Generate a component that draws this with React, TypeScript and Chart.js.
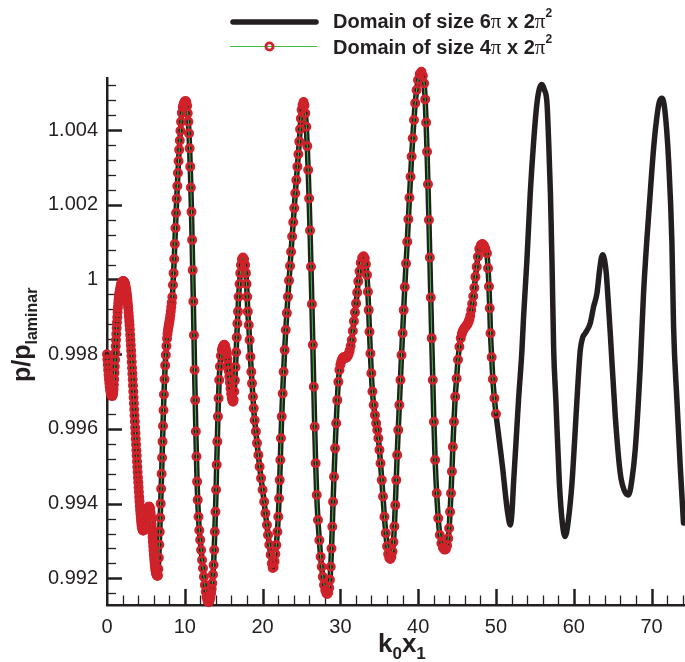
import React, { useEffect, useRef } from 'react';
import { Chart, registerables } from 'chart.js';

Chart.register(...registerables);

// ---- axis definitions ----
const xTicks = [0, 10, 20, 30, 40, 50, 60, 70];
const yTicks = [0.992, 0.994, 0.996, 0.998, 1.0, 1.002, 1.004];
const xMin = 0;
const xMax = 74.3;
const yMin = 0.991287;
const yMax = 1.005393;
const xMinorStep = 2;
const yMinorStep = 0.0004;

// ---- legend labels ----
const legendBlack = ['Domain of size 6', 'π', ' x 2', 'π', '2'];
const legendRed = ['Domain of size 4', 'π', ' x 2', 'π', '2'];

// ---- series: domain 4π x 2π² (red markers, green line) ----
const redSeries: [number, number][] = [
  [0, 0.998], [0.05, 0.99786], [0.1, 0.99772], [0.15, 0.99758], [0.2, 0.99745], [0.25, 0.99733],
  [0.3, 0.99722], [0.35, 0.99713], [0.4, 0.99705], [0.45, 0.99699], [0.5, 0.99694], [0.55, 0.99691],
  [0.6, 0.99689], [0.65, 0.99688], [0.7, 0.99689], [0.75, 0.99692], [0.8, 0.99697], [0.84, 0.99706],
  [0.88, 0.99718], [0.92, 0.99733], [0.96, 0.9975], [1.0, 0.99767], [1.04, 0.99785], [1.08, 0.99803],
  [1.12, 0.99821], [1.16, 0.99838], [1.2, 0.99854], [1.24, 0.9987], [1.28, 0.99885], [1.32, 0.99899],
  [1.36, 0.99912], [1.4, 0.99925], [1.44, 0.99935], [1.48, 0.99944], [1.52, 0.99952], [1.56, 0.99959],
  [1.6, 0.99965], [1.66, 0.99972], [1.72, 0.99979], [1.78, 0.99985], [1.84, 0.99989], [1.9, 0.99992],
  [1.96, 0.99994], [2.02, 0.99995], [2.08, 0.99995], [2.14, 0.99995], [2.18, 0.99994], [2.22, 0.99993],
  [2.26, 0.99991], [2.3, 0.99989], [2.34, 0.99986], [2.38, 0.99982], [2.42, 0.99977], [2.46, 0.99972],
  [2.5, 0.99967], [2.54, 0.99962], [2.58, 0.99955], [2.62, 0.99947], [2.66, 0.99939], [2.7, 0.9993],
  [2.74, 0.99922], [2.78, 0.99911], [2.82, 0.999], [2.86, 0.99889], [2.9, 0.99878], [2.94, 0.99866],
  [2.98, 0.99852], [3.02, 0.99838], [3.06, 0.99824], [3.1, 0.9981], [3.14, 0.99795], [3.18, 0.99779],
  [3.22, 0.99763], [3.26, 0.99748], [3.3, 0.99732], [3.34, 0.99716], [3.38, 0.997], [3.42, 0.99684],
  [3.46, 0.99668], [3.5, 0.99652], [3.54, 0.99636], [3.58, 0.9962], [3.62, 0.99604], [3.66, 0.99589],
  [3.7, 0.99573], [3.74, 0.99558], [3.78, 0.99543], [3.82, 0.99528], [3.86, 0.99513], [3.9, 0.99498],
  [3.94, 0.99484], [3.98, 0.9947], [4.02, 0.99457], [4.06, 0.99444], [4.1, 0.99431], [4.14, 0.99418],
  [4.18, 0.99406], [4.22, 0.99394], [4.26, 0.99383], [4.3, 0.99373], [4.34, 0.99363], [4.38, 0.99354],
  [4.42, 0.99347], [4.46, 0.9934], [4.5, 0.99336], [4.54, 0.99333], [4.58, 0.9933], [4.62, 0.99328],
  [4.66, 0.99328], [4.7, 0.99329], [4.74, 0.9933], [4.78, 0.99333], [4.82, 0.99337], [4.86, 0.99341],
  [4.9, 0.99346], [4.94, 0.99351], [4.98, 0.99357], [5.02, 0.99362], [5.06, 0.99367], [5.1, 0.99372],
  [5.14, 0.99376], [5.18, 0.9938], [5.22, 0.99384], [5.26, 0.99387], [5.3, 0.99389], [5.34, 0.99391],
  [5.38, 0.99392], [5.42, 0.99392], [5.46, 0.99391], [5.5, 0.99389], [5.54, 0.99385], [5.58, 0.99379],
  [5.62, 0.99372], [5.66, 0.99364], [5.7, 0.99355], [5.74, 0.99345], [5.78, 0.99334], [5.82, 0.99322],
  [5.86, 0.9931], [5.9, 0.99298], [5.94, 0.99286], [5.98, 0.99275], [6.02, 0.99264], [6.06, 0.99254],
  [6.1, 0.99245], [6.14, 0.99237], [6.18, 0.9923], [6.22, 0.99224], [6.26, 0.99219], [6.3, 0.99215],
  [6.34, 0.99212], [6.38, 0.9921], [6.42, 0.99208], [6.46, 0.99207], [6.5, 0.99207], [6.54, 0.99208],
  [6.6, 0.99225], [6.66, 0.99255], [6.72, 0.9929], [6.78, 0.99325], [6.84, 0.99362], [6.9, 0.994],
  [6.96, 0.9944], [7.02, 0.9948], [7.08, 0.99523], [7.14, 0.99566], [7.2, 0.99608], [7.26, 0.9965],
  [7.32, 0.99692], [7.4, 0.99733], [7.48, 0.9977], [7.56, 0.99798], [7.64, 0.99822], [7.72, 0.99842],
  [7.78, 0.99855], [7.84, 0.99865], [7.9, 0.99873], [7.96, 0.9988], [8.02, 0.99887], [8.08, 0.99895],
  [8.14, 0.99904], [8.2, 0.99914], [8.26, 0.99926], [8.32, 0.99938], [8.4, 0.99953], [8.48, 0.99985],
  [8.56, 1.00017], [8.64, 1.00055], [8.72, 1.00095], [8.8, 1.00138], [8.88, 1.00178], [8.96, 1.00216],
  [9.04, 1.0025], [9.12, 1.00285], [9.2, 1.00317], [9.28, 1.00347], [9.36, 1.00372], [9.44, 1.00398],
  [9.52, 1.00422], [9.62, 1.00446], [9.74, 1.00462], [9.86, 1.00471], [9.98, 1.00476], [10.1, 1.00478],
  [10.2, 1.00475], [10.3, 1.00465], [10.38, 1.00445], [10.46, 1.00422], [10.54, 1.00391], [10.62, 1.00351],
  [10.7, 1.00302], [10.78, 1.00246], [10.86, 1.00181], [10.94, 1.00106], [11.02, 1.00025], [11.1, 0.99941],
  [11.18, 0.99851], [11.26, 0.99758], [11.34, 0.99677], [11.42, 0.99593], [11.5, 0.99526], [11.58, 0.99459],
  [11.66, 0.9941], [11.76, 0.99365], [11.86, 0.99329], [11.98, 0.99303], [12.1, 0.99276], [12.22, 0.99249],
  [12.34, 0.99227], [12.46, 0.99204], [12.58, 0.99182], [12.7, 0.99164], [12.8, 0.9915], [12.9, 0.99142],
  [12.98, 0.99138], [13.06, 0.99136], [13.14, 0.99138], [13.22, 0.99143], [13.3, 0.9915], [13.38, 0.9916],
  [13.46, 0.99172], [13.54, 0.99187], [13.62, 0.9921], [13.7, 0.99236], [13.78, 0.99276], [13.86, 0.99325],
  [13.94, 0.99378], [14.02, 0.99437], [14.1, 0.99504], [14.18, 0.99566], [14.26, 0.99633], [14.34, 0.99682],
  [14.42, 0.99731], [14.52, 0.99767], [14.64, 0.99796], [14.76, 0.99812], [14.88, 0.9982], [15.0, 0.99824],
  [15.08, 0.99825], [15.16, 0.99823], [15.24, 0.99818], [15.32, 0.9981], [15.4, 0.998], [15.48, 0.99787],
  [15.56, 0.99772], [15.64, 0.99756], [15.72, 0.9974], [15.8, 0.99724], [15.88, 0.99708], [15.96, 0.99694],
  [16.04, 0.99683], [16.12, 0.99676], [16.2, 0.99673], [16.28, 0.99678], [16.36, 0.997], [16.44, 0.9973],
  [16.52, 0.99765], [16.6, 0.99805], [16.68, 0.99845], [16.76, 0.99882], [16.84, 0.99914], [16.92, 0.99954],
  [17.04, 0.99988], [17.13, 1.00017], [17.22, 1.00039], [17.34, 1.00054], [17.48, 1.00059], [17.62, 1.00054],
  [17.76, 1.00039], [17.86, 1.00017], [17.94, 0.99988], [18.02, 0.99954], [18.1, 0.99914], [18.22, 0.99878],
  [18.33, 0.99838], [18.44, 0.99793], [18.55, 0.99753], [18.64, 0.99722], [18.76, 0.99686], [18.86, 0.99655],
  [18.98, 0.99623], [19.14, 0.99593], [19.28, 0.99562], [19.46, 0.9953], [19.62, 0.99499], [19.8, 0.99468],
  [20.0, 0.99437], [20.2, 0.99405], [20.36, 0.99374], [20.56, 0.99343], [20.7, 0.99316], [20.86, 0.9929],
  [21.04, 0.99263], [21.18, 0.9924], [21.3, 0.99228], [21.42, 0.9923], [21.54, 0.99245], [21.64, 0.99265],
  [21.76, 0.99289], [21.9, 0.99325], [22.02, 0.99365], [22.12, 0.99414], [22.2, 0.99463], [22.28, 0.99517],
  [22.36, 0.99575], [22.46, 0.99633], [22.58, 0.99695], [22.7, 0.99753], [22.84, 0.99811], [22.98, 0.99865],
  [23.12, 0.9991], [23.26, 0.99954], [23.4, 0.99997], [23.53, 1.00036], [23.66, 1.00074], [23.8, 1.00115],
  [23.94, 1.00153], [24.07, 1.00191], [24.2, 1.00231], [24.34, 1.00266], [24.47, 1.00302], [24.6, 1.00335],
  [24.72, 1.00369], [24.82, 1.00402], [24.92, 1.00431], [25.02, 1.00454], [25.14, 1.00467], [25.27, 1.00475],
  [25.38, 1.00466], [25.49, 1.00445], [25.62, 1.00409], [25.74, 1.00357], [25.86, 1.00293], [25.98, 1.00217],
  [26.1, 1.00131], [26.22, 1.00034], [26.34, 0.99934], [26.46, 0.99825], [26.58, 0.99713], [26.7, 0.99606],
  [26.82, 0.99508], [26.96, 0.99423], [27.12, 0.99356], [27.3, 0.99302], [27.46, 0.99258], [27.6, 0.99231],
  [27.74, 0.99204], [27.9, 0.99182], [28.06, 0.99168], [28.2, 0.9916], [28.32, 0.99158], [28.44, 0.99162],
  [28.56, 0.99175], [28.66, 0.99196], [28.76, 0.99231], [28.86, 0.9928], [28.96, 0.99338], [29.06, 0.99405],
  [29.18, 0.99472], [29.32, 0.99548], [29.46, 0.99615], [29.6, 0.99677], [29.74, 0.99726], [29.88, 0.99758],
  [30.0, 0.99772], [30.1, 0.9978], [30.2, 0.99786], [30.3, 0.9979], [30.4, 0.99792], [30.5, 0.99792],
  [30.6, 0.99791], [30.7, 0.9979], [30.8, 0.99791], [30.9, 0.99794], [31.0, 0.99798], [31.1, 0.99803],
  [31.2, 0.9981], [31.32, 0.99822], [31.46, 0.99838], [31.6, 0.99862], [31.74, 0.99888], [31.88, 0.99912],
  [32.02, 0.99936], [32.16, 0.99965], [32.3, 0.99995], [32.46, 1.00022], [32.62, 1.00045], [32.8, 1.00058],
  [32.98, 1.00062], [33.14, 1.00056], [33.28, 1.00041], [33.42, 1.00012], [33.54, 0.99967], [33.64, 0.99918],
  [33.74, 0.9986], [33.86, 0.99802], [33.98, 0.99749], [34.12, 0.997], [34.28, 0.99664], [34.44, 0.99637],
  [34.6, 0.99615], [34.74, 0.99597], [34.88, 0.99575], [35.02, 0.99544], [35.16, 0.99508], [35.32, 0.99463],
  [35.48, 0.99419], [35.66, 0.99365], [35.84, 0.99321], [36.0, 0.99286], [36.14, 0.99265], [36.28, 0.99255],
  [36.42, 0.99252], [36.56, 0.99258], [36.7, 0.99272], [36.82, 0.99297], [36.94, 0.99339], [37.06, 0.99396],
  [37.18, 0.99463], [37.3, 0.9953], [37.44, 0.99597], [37.58, 0.99664], [37.72, 0.99731], [37.86, 0.99798],
  [38.0, 0.99856], [38.14, 0.99918], [38.28, 0.9998], [38.44, 1.00043], [38.6, 1.00101], [38.74, 1.00161],
  [38.88, 1.00219], [39.02, 1.00275], [39.16, 1.00329], [39.3, 1.00378], [39.46, 1.00427], [39.62, 1.00472],
  [39.8, 1.00507], [39.98, 1.00534], [40.2, 1.0055], [40.42, 1.00556], [40.6, 1.00545], [40.76, 1.00525],
  [40.9, 1.00482], [41.02, 1.0042], [41.14, 1.00342], [41.26, 1.00255], [41.38, 1.00159], [41.5, 1.00059],
  [41.62, 0.99952], [41.74, 0.99843], [41.88, 0.99731], [42.02, 0.99619], [42.18, 0.99517], [42.38, 0.99428],
  [42.58, 0.99361], [42.78, 0.99316], [42.98, 0.99294], [43.18, 0.99282], [43.38, 0.99277], [43.56, 0.99278],
  [43.72, 0.99288], [43.86, 0.99307], [43.98, 0.99334], [44.1, 0.99378], [44.22, 0.99428], [44.34, 0.99486],
  [44.46, 0.99552], [44.6, 0.99619], [44.76, 0.99686], [44.94, 0.99735], [45.12, 0.99785], [45.3, 0.9982],
  [45.48, 0.99843], [45.62, 0.99855], [45.74, 0.99862], [45.86, 0.99867], [45.98, 0.99871], [46.1, 0.99874],
  [46.22, 0.99877], [46.34, 0.99881], [46.46, 0.99886], [46.58, 0.99893], [46.7, 0.99903], [46.82, 0.99918],
  [46.94, 0.99935], [47.08, 0.99955], [47.22, 0.99978], [47.36, 1.00007], [47.52, 1.00034], [47.68, 1.00061],
  [47.86, 1.00082], [48.06, 1.00092], [48.26, 1.00095], [48.46, 1.00091], [48.64, 1.00082], [48.84, 1.0007],
  [48.98, 1.0003], [49.1, 0.99981], [49.2, 0.99923], [49.3, 0.99856], [49.45, 0.99792], [49.6, 0.99733],
  [49.8, 0.99682], [50.0, 0.9964],
];

// ---- series: domain 6π x 2π² beyond the overlap (black thick line) ----
const blackTail: [number, number][] = [
  [50.3, 0.9959], [50.6, 0.9954], [50.9, 0.99488], [51.2, 0.99428], [51.5, 0.99376], [51.84, 0.99343],
  [52.05, 0.99375], [52.26, 0.99455], [52.58, 0.99565], [52.9, 0.99677], [53.34, 0.99811], [53.55, 0.999],
  [53.98, 1.00052], [54.41, 1.00231], [54.83, 1.00365], [55.27, 1.00472], [55.6, 1.00512], [55.91, 1.00522],
  [56.22, 1.00508], [56.56, 1.00472], [56.78, 1.00365], [57.0, 1.00231], [57.2, 1.00052], [57.42, 0.99811],
  [57.7, 0.99677], [58.15, 0.99455], [58.55, 0.99345], [58.9, 0.99312], [59.3, 0.99355], [59.77, 0.99455],
  [60.1, 0.99565], [60.41, 0.99677], [60.84, 0.99811], [61.15, 0.99845], [61.48, 0.99856], [62.12, 0.99883],
  [62.55, 0.99927], [62.98, 0.99963], [63.32, 1.00025], [63.55, 1.00058], [63.75, 1.00066], [63.96, 1.00052],
  [64.18, 1.00017], [64.42, 0.99945], [64.69, 0.99857], [65.34, 0.99633], [65.98, 0.99481], [66.5, 0.99435],
  [67.04, 0.99423], [67.45, 0.9946], [67.9, 0.99544], [68.55, 0.99767], [68.97, 0.99963], [69.83, 1.00231],
  [70.3, 1.0036], [70.69, 1.00436], [71.0, 1.00475], [71.34, 1.00485], [71.7, 1.00455], [72.19, 1.0032],
  [72.62, 1.00097], [72.83, 0.99874], [73.26, 0.99677], [73.69, 0.99499], [74.11, 0.99348],
];

const INK = '#231f20';
const RED = '#d0222a';
const GREEN = '#3fbf3f';
const FONT = '"Liberation Sans", Arial, Helvetica, sans-serif';
const SERIF = '"Liberation Serif", "DejaVu Serif", serif';

type Seg = { t: string; font: string; dy?: number };

function drawSegs(ctx: CanvasRenderingContext2D, segs: Seg[], x: number, y: number) {
  let cx = x;
  for (const s of segs) {
    ctx.font = s.font;
    ctx.fillText(s.t, cx, y + (s.dy || 0));
    cx += ctx.measureText(s.t).width;
  }
  return cx;
}

function legendSegs(parts: string[]): Seg[] {
  const B = `bold 20px ${FONT}`;
  const P = `21px ${SERIF}`;
  const S = `bold 12px ${FONT}`;
  return [
    { t: parts[0], font: B },
    { t: parts[1], font: P },
    { t: parts[2], font: B },
    { t: parts[3], font: P },
    { t: parts[4], font: S, dy: -11 },
  ];
}

const decorPlugin = {
  id: 'decor',
  beforeDatasetsDraw(chart: any) {
    const { ctx, chartArea: a, scales } = chart;
    const xs = scales.x;
    const ys = scales.y;
    ctx.save();
    ctx.strokeStyle = INK;
    ctx.lineCap = 'butt';
    const kyMin = Math.ceil(yMin / yMinorStep - 1e-6);
    const kyMax = Math.floor(yMax / yMinorStep + 1e-6);
    for (let k = kyMin; k <= kyMax; k++) {
      const major = k % 5 === 0;
      const py = Math.round(ys.getPixelForValue(k * yMinorStep)) + 0.5;
      ctx.lineWidth = major ? 2.5 : 1.3;
      ctx.beginPath();
      ctx.moveTo(a.left, py);
      ctx.lineTo(a.left + (major ? 15 : 9), py);
      ctx.stroke();
    }
    const kxMax = Math.floor(xMax / xMinorStep);
    for (let k = 1; k <= kxMax; k++) {
      const major = k % 5 === 0;
      const px = Math.round(xs.getPixelForValue(k * xMinorStep)) + 0.5;
      ctx.lineWidth = major ? 2.5 : 1.3;
      ctx.beginPath();
      ctx.moveTo(px, a.bottom);
      ctx.lineTo(px, a.bottom - (major ? 16 : 9.5));
      ctx.stroke();
    }
    ctx.restore();
  },
  afterDraw(chart: any) {
    const { ctx } = chart;
    ctx.save();
    ctx.fillStyle = INK;
    ctx.textBaseline = 'alphabetic';
    ctx.textAlign = 'left';

    // legend entry 1: thick black line
    ctx.strokeStyle = INK;
    ctx.lineWidth = 5.5;
    ctx.lineCap = 'round';
    ctx.beginPath();
    ctx.moveTo(233, 22);
    ctx.lineTo(316, 22);
    ctx.stroke();
    drawSegs(ctx, legendSegs(legendBlack), 333, 27.5);

    // legend entry 2: green line with red ring marker
    ctx.strokeStyle = GREEN;
    ctx.lineWidth = 1.2;
    ctx.lineCap = 'butt';
    ctx.beginPath();
    ctx.moveTo(230, 46.5);
    ctx.lineTo(317, 46.5);
    ctx.stroke();
    ctx.strokeStyle = RED;
    ctx.lineWidth = 2.8;
    ctx.beginPath();
    ctx.arc(269.5, 46.5, 3.6, 0, Math.PI * 2);
    ctx.stroke();
    drawSegs(ctx, legendSegs(legendRed), 333, 53.5);

    // x axis title  k0x1
    const XB = `bold 26px ${FONT}`;
    const XS = `bold 17px ${FONT}`;
    drawSegs(ctx, [
      { t: 'k', font: XB },
      { t: '0', font: XS, dy: 7 },
      { t: 'x', font: XB },
      { t: '1', font: XS, dy: 7 },
    ], 378, 652);

    // y axis title p/p_laminar (rotated, reading upward)
    const YB = `bold 25px ${FONT}`;
    const YS = `bold 16px ${FONT}`;
    ctx.translate(30, 382);
    ctx.rotate(-Math.PI / 2);
    drawSegs(ctx, [
      { t: 'p/p', font: YB },
      { t: 'laminar', font: YS, dy: 7 },
    ], 0, 0);
    ctx.restore();
  },
};

export default function App() {
  const ref = useRef<HTMLCanvasElement>(null);
  useEffect(() => {
    const canvas = ref.current;
    if (!canvas) return;
    const toXY = (p: [number, number]) => ({ x: p[0], y: p[1] });
    const chart = new Chart(canvas, {
      type: 'line',
      data: {
        datasets: [
          {
            label: legendRed.join(''),
            data: redSeries.map(toXY),
            borderColor: GREEN,
            borderWidth: 1,
            pointRadius: 3.6,
            pointBorderWidth: 2.8,
            pointBorderColor: RED,
            pointBackgroundColor: 'rgba(0,0,0,0)',
            pointHoverRadius: 3.6,
            cubicInterpolationMode: 'monotone',
            clip: false,
            order: 1,
          } as any,
          {
            label: legendBlack.join(''),
            data: [...redSeries, ...blackTail].map(toXY),
            borderColor: INK,
            borderWidth: 5.5,
            pointRadius: 0,
            cubicInterpolationMode: 'monotone',
            borderCapStyle: 'round',
            borderJoinStyle: 'round',
            clip: false,
            order: 2,
          } as any,
        ],
      },
      options: {
        animation: false,
        responsive: false,
        devicePixelRatio: 1,
        events: [],
        layout: { autoPadding: false, padding: { top: 78, left: 0, right: 0, bottom: 0 } },
        plugins: { legend: { display: false }, tooltip: { enabled: false }, title: { display: false } },
        scales: {
          x: {
            type: 'linear',
            min: xMin,
            max: xMax,
            afterBuildTicks: (s: any) => { s.ticks = xTicks.map((v) => ({ value: v })); },
            afterFit: (s: any) => { s.height = 57; s.paddingLeft = 0; s.paddingRight = 0; },
            grid: { display: false, drawTicks: false },
            border: { display: true, color: INK, width: 2.5 },
            ticks: { color: INK, font: { family: FONT, size: 20 }, padding: 10, maxRotation: 0, autoSkip: false },
          },
          y: {
            type: 'linear',
            min: yMin,
            max: yMax,
            afterBuildTicks: (s: any) => { s.ticks = yTicks.map((v) => ({ value: v })); },
            afterFit: (s: any) => { s.width = 107; s.paddingTop = 0; s.paddingBottom = 0; },
            grid: { display: false, drawTicks: false },
            border: { display: true, color: INK, width: 2.5 },
            ticks: {
              color: INK,
              font: { family: FONT, size: 20 },
              padding: 9,
              autoSkip: false,
              callback: (v: any) => (Math.abs(Number(v) - 1) < 1e-9 ? '1' : Number(v).toFixed(3)),
            },
          },
        },
      },
      plugins: [decorPlugin],
    });
    return () => chart.destroy();
  }, []);
  return (
    <div style={{ position: 'fixed', left: 0, top: 0, width: 685, height: 662, background: '#fff' }}>
      <canvas ref={ref} width={685} height={662} style={{ display: 'block', width: 685, height: 662 }} />
    </div>
  );
}
